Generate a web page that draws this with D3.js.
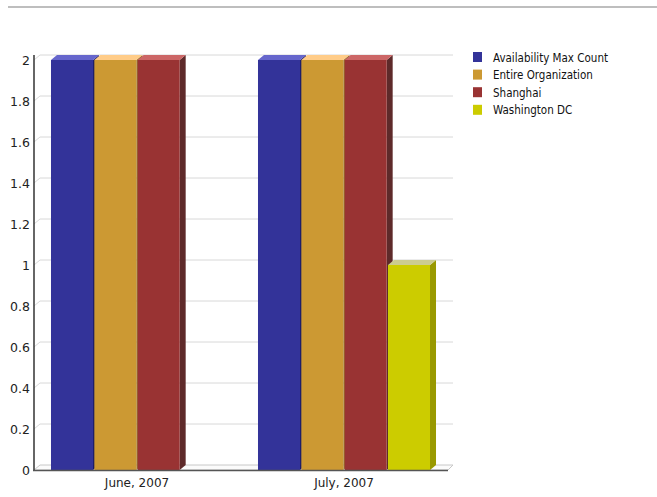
<!DOCTYPE html>
<html><head><meta charset="utf-8">
<script src="https://cdn.jsdelivr.net/npm/d3@7/dist/d3.min.js"></script>
<style>body{margin:0;background:#fff;}svg{display:block;font-family:"DejaVu Sans",sans-serif;}</style>
</head><body>
<svg id="c" width="657" height="497"></svg>
<script>
const categories = ["June, 2007", "July, 2007"];
const seriesNames = ["Availability Max Count", "Entire Organization", "Shanghai", "Washington DC"];
const availabilityMaxCount = [2, 2];
const entireOrganization = [2, 2];
const shanghai = [2, 2];
const washingtonDC = [null, 1];
const yTicks = [0, 0.2, 0.4, 0.6, 0.8, 1, 1.2, 1.4, 1.6, 1.8, 2];
const colors = [
  {front:"#333399", top:"#6666cc", side:"#1a1a66"},
  {front:"#cc9933", top:"#ffcc88", side:"#99722a"},
  {front:"#993333", top:"#cc6666", side:"#5e2a2a"},
  {front:"#cccc00", top:"#cccc90", side:"#999900"}
];
const seriesValues = [availabilityMaxCount, entireOrganization, shanghai, washingtonDC];

const svg = d3.select("#c");
const dx = 6, dy = -5;
const y = d3.scaleLinear().domain([0, 2]).range([470, 60]);
const x = d3.scaleBand().domain(categories).range([33.5, 447.5]).paddingInner(0.169).paddingOuter(0.0845);
const xs = d3.scaleBand().domain(seriesNames).range([0, x.bandwidth()]).paddingInner(0.03);

// top rule
svg.append("line").attr("x1", 8).attr("x2", 657).attr("y1", 7).attr("y2", 7)
  .attr("stroke", "#a8a8a8").attr("stroke-width", 1.5);

// gridlines on back wall
const grid = svg.append("g");
yTicks.forEach(t => {
  if (t === 0) return;
  grid.append("path")
    .attr("d", `M34,${y(t)} L${34+dx},${y(t)+dy} L453,${y(t)+dy}`)
    .attr("fill", "none").attr("stroke", "#d8d8d8").attr("stroke-width", 1);
});
// floor
svg.append("path")
  .attr("d", `M34,${y(0)} L${34+dx},${y(0)+dy} L453,${y(0)+dy} L448,${y(0)} Z`)
  .attr("fill", "#fbfbfb").attr("stroke", "#c8c8c8").attr("stroke-width", 1);

// bars
const bars = svg.append("g");
categories.forEach((cat, ci) => {
  seriesNames.forEach((s, si) => {
    const v = seriesValues[si][ci];
    if (v == null || v === 0) return;
    const x0 = x(cat) + xs(s), w = xs.bandwidth();
    const yt = y(v), yb = y(0);
    const c = colors[si];
    bars.append("path").attr("d", `M${x0+w},${yt} L${x0+w+dx},${yt+dy} L${x0+w+dx},${yb+dy} L${x0+w},${yb} Z`).attr("fill", c.side);
    bars.append("path").attr("d", `M${x0},${yt} L${x0+dx},${yt+dy} L${x0+w+dx},${yt+dy} L${x0+w},${yt} Z`).attr("fill", c.top);
    bars.append("rect").attr("x", x0).attr("y", yt).attr("width", w).attr("height", yb - yt).attr("fill", c.front);
  });
});

// axes lines
svg.append("line").attr("x1", 34).attr("x2", 34).attr("y1", 55).attr("y2", 470.5)
  .attr("stroke", "#333").attr("stroke-width", 1.5);
svg.append("line").attr("x1", 33).attr("x2", 448).attr("y1", 470.5).attr("y2", 470.5)
  .attr("stroke", "#555").attr("stroke-width", 1.5);

// y labels
const yAxis = d3.axisLeft(y).tickValues(yTicks).tickSize(0).tickPadding(4).tickFormat(d3.format("~g"));
const ya = svg.append("g").attr("transform", "translate(34,0)").call(yAxis);
ya.select(".domain").remove();
ya.selectAll("text").attr("font-size", 12.5).attr("fill", "#222").attr("font-family", "DejaVu Sans");

// x labels
const xAxis = d3.axisBottom(x).tickSize(0).tickPadding(8);
const xa = svg.append("g").attr("transform", "translate(0,470)").call(xAxis);
xa.select(".domain").remove();
xa.selectAll("text").attr("font-size", 12).attr("fill", "#222").attr("font-family", "DejaVu Sans");

// legend
const lg = svg.append("g").attr("transform", "translate(473,52)");
seriesNames.forEach((s, i) => {
  const g = lg.append("g").attr("transform", `translate(0,${i*17.6})`);
  g.append("rect").attr("width", 9).attr("height", 10).attr("fill", colors[i].front);
  g.append("text").attr("x", 20).attr("y", 9.5).text(s)
    .attr("font-size", 11.5).attr("fill", "#111").attr("font-family", "DejaVu Sans Condensed");
});
</script>
</body></html>
